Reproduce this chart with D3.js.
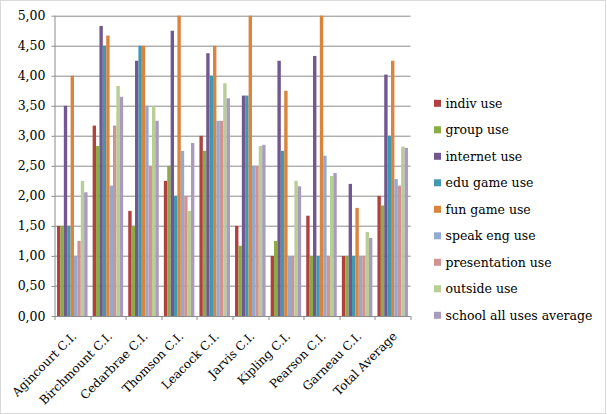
<!DOCTYPE html>
<html>
<head>
<meta charset="utf-8">
<script src="https://cdn.jsdelivr.net/npm/d3@7"></script>
<style>
  body { margin: 0; background: #fff; }
  text { font-family: "DejaVu Serif", serif; fill: #000; }
</style>
</head>
<body>
<div id="chart-area"></div>
<script>
// schools
var schools = ["Agincourt C.I.", "Birchmount C.I.", "Cedarbrae C.I.", "Thomson C.I.", "Leacock C.I.",
  "Jarvis C.I.", "Kipling C.I.", "Pearson C.I.", "Garneau C.I.", "Total Average"]

var seriesNames = ["indiv use", "group use", "internet use", "edu game use", "fun game use",
  "speak eng use", "presentation use", "outside use", "school all uses average"]

var seriesColors = ["#b0413e", "#8aab45", "#71588f", "#4198af", "#db843d",
  "#93a9cf", "#d19392", "#b9cd96", "#a99bbd"]

// values per series, one per school
var indivUse        = [1.5, 3.17, 1.75, 2.25, 3.0, 1.5, 1.0, 1.67, 1.0, 2.0]
var groupUse        = [1.5, 2.83, 1.5, 2.5, 2.75, 1.17, 1.25, 1.0, 1.0, 1.84]
var internetUse     = [3.5, 4.83, 4.25, 4.75, 4.375, 3.67, 4.25, 4.33, 2.2, 4.02]
var eduGameUse      = [1.5, 4.5, 4.5, 2.0, 4.0, 3.67, 2.75, 1.0, 1.0, 3.0]
var funGameUse      = [4.0, 4.67, 4.5, 5.0, 4.5, 5.0, 3.75, 5.0, 1.8, 4.25]
var speakEngUse     = [1.0, 2.17, 3.5, 2.75, 3.25, 2.5, 1.0, 2.67, 1.0, 2.28]
var presentationUse = [1.25, 3.17, 2.5, 2.0, 3.25, 2.5, 1.0, 1.0, 1.0, 2.17]
var outsideUse      = [2.25, 3.83, 3.5, 1.75, 3.875, 2.83, 2.25, 2.33, 1.4, 2.82]
var schoolAverage   = [2.06, 3.65, 3.25, 2.88, 3.625, 2.85, 2.16, 2.38, 1.3, 2.8]

var seriesValues = [indivUse, groupUse, internetUse, eduGameUse, funGameUse,
  speakEngUse, presentationUse, outsideUse, schoolAverage]

var yTicks = [0, 0.5, 1, 1.5, 2, 2.5, 3, 3.5, 4, 4.5, 5]

var W = 607, H = 414
var margin = {left: 54.5, top: 15.7, right: 196, bottom: 98}
var width = 410.5 - margin.left
var height = 316 - margin.top

var svg = d3.select("#chart-area").append("svg")
  .attr("width", W)
  .attr("height", H)

// outer chart border
svg.append("rect")
  .attr("x", 0.5).attr("y", 0.5)
  .attr("width", 605).attr("height", 413)
  .attr("fill", "#fff")
  .attr("stroke", "#d9d9d9")

var g = svg.append("g")
  .attr("transform", "translate(" + margin.left + "," + margin.top + ")")

var x0 = d3.scaleBand().domain(schools).range([0, width])
var x1 = d3.scaleBand().domain(seriesNames)
  .range([0, x0.bandwidth()])
  .paddingOuter(0.75)

var y = d3.scaleLinear().domain([0, 5]).range([height, 0])

var fmt = function(d) { return d3.format(".2f")(d).replace(".", ",") }

// gridlines
g.append("g")
  .selectAll("line")
  .data(yTicks.slice(1))
  .enter().append("line")
  .attr("x1", 0).attr("x2", width)
  .attr("y1", function(d) { return Math.round(y(d)) + 0.5 })
  .attr("y2", function(d) { return Math.round(y(d)) + 0.5 })
  .attr("stroke", "#8c8c8c")
  .attr("stroke-width", 1)

// bars
var groups = g.selectAll(".school")
  .data(schools)
  .enter().append("g")
  .attr("class", "school")
  .attr("transform", function(d) { return "translate(" + x0(d) + ",0)" })

groups.selectAll("rect")
  .data(function(d, i) {
    return seriesNames.map(function(s, j) { return {series: s, value: seriesValues[j][i], c: seriesColors[j]} })
  })
  .enter().append("rect")
  .attr("x", function(d) { return x1(d.series) })
  .attr("width", x1.bandwidth())
  .attr("y", function(d) { return y(d.value) })
  .attr("height", function(d) { return height - y(d.value) })
  .attr("fill", function(d) { return d.c })

// y axis
var yAxisCall = d3.axisLeft(y).tickValues(yTicks).tickFormat(fmt).tickSize(3).tickPadding(6)
var yAxis = g.append("g").attr("class", "y axis").call(yAxisCall)
yAxis.select(".domain").attr("stroke", "#8c8c8c").attr("d", "M0.5,0V" + height)
yAxis.selectAll(".tick line").attr("stroke", "#8c8c8c")
yAxis.selectAll("text").style("font-size", "12.5px").style("font-family", "DejaVu Serif")

// x axis: line plus tick marks on band edges
var xg = g.append("g").attr("transform", "translate(0," + height + ")")
xg.append("line").attr("x1", 0).attr("x2", width).attr("y1", 0.5).attr("y2", 0.5).attr("stroke", "#8c8c8c")
xg.selectAll(".xt")
  .data(schools.concat(["end"]))
  .enter().append("line")
  .attr("x1", function(d, i) { return Math.round(i * x0.step()) + 0.5 })
  .attr("x2", function(d, i) { return Math.round(i * x0.step()) + 0.5 })
  .attr("y1", 0).attr("y2", 4)
  .attr("stroke", "#8c8c8c")

xg.selectAll(".xl")
  .data(schools)
  .enter().append("text")
  .attr("transform", function(d) {
    return "translate(" + (x0(d) + x0.bandwidth() / 2 + 5) + ",21) rotate(-45)"
  })
  .attr("text-anchor", "end")
  .style("font-size", "12px")
  .text(function(d) { return d })

// legend
var legend = svg.append("g").attr("transform", "translate(434,103.3)")
var items = legend.selectAll("g")
  .data(seriesNames)
  .enter().append("g")
  .attr("transform", function(d, i) { return "translate(0," + (i * 26.5) + ")" })
items.append("rect")
  .attr("x", 0).attr("y", -3.5)
  .attr("width", 7).attr("height", 7)
  .attr("fill", function(d, i) { return seriesColors[i] })
items.append("text")
  .attr("x", 11.5).attr("y", 4.5)
  .style("font-size", "12.5px")
  .text(function(d) { return d })
</script>
</body>
</html>
